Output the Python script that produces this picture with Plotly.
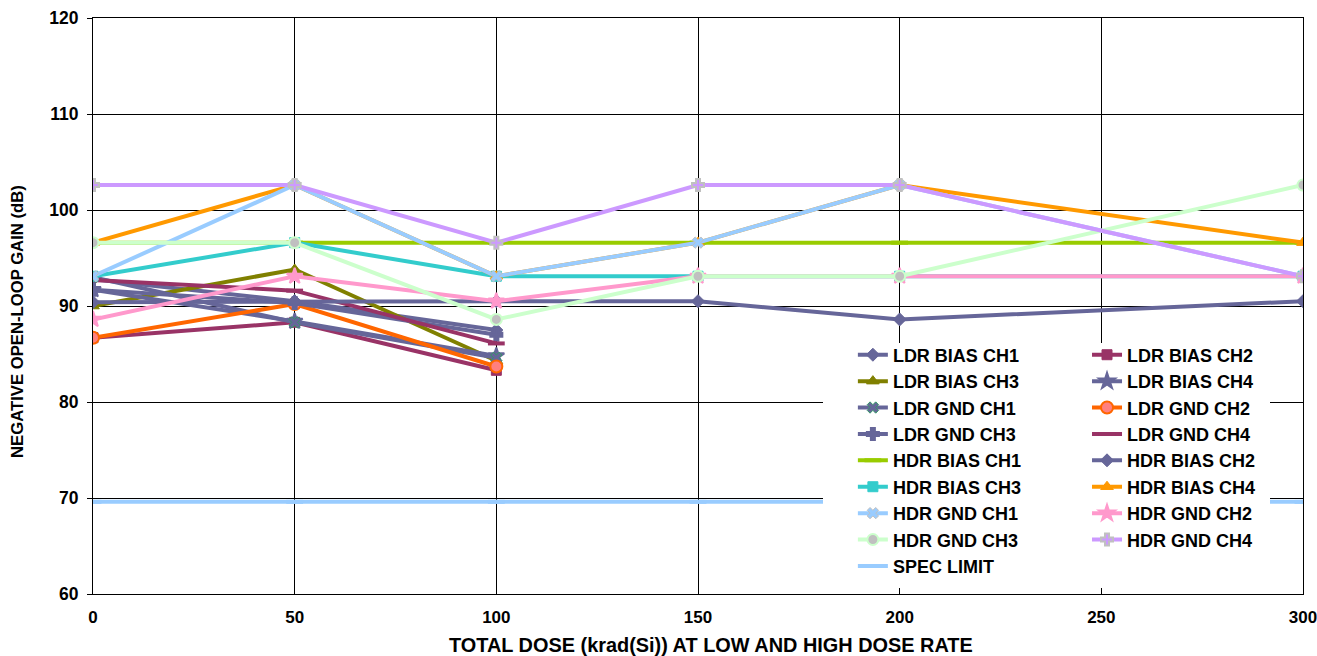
import plotly.graph_objects as go

# ---- data ----
LDR_X = [0, 50, 100]
HDR_X = [0, 50, 100, 150, 200, 300]

LDR_BIAS_CH1 = [92.8, 90.5, 87.5]
LDR_BIAS_CH2 = [86.7, 88.3, 83.3]
LDR_BIAS_CH3 = [90.0, 93.8, 84.3]
LDR_BIAS_CH4 = [91.7, 88.4, 84.8]
LDR_GND_CH1 = [93.0, 88.3, 84.6]
LDR_GND_CH2 = [86.7, 90.2, 83.7]
LDR_GND_CH3 = [91.7, 90.3, 87.0]
LDR_GND_CH4 = [92.7, 91.6, 86.1]

HDR_BIAS_CH1 = [96.6, 96.6, 96.6, 96.6, 96.6, 96.6]
HDR_BIAS_CH2 = [90.4, 90.5, 90.5, 90.5, 88.6, 90.5]
HDR_BIAS_CH3 = [93.1, 96.6, 93.1, 93.1, 93.1, 93.1]
HDR_BIAS_CH4 = [96.6, 102.6, 93.1, 96.6, 102.6, 96.6]
HDR_GND_CH1 = [93.1, 102.6, 93.1, 96.6, 102.6, 93.1]
HDR_GND_CH2 = [88.6, 93.1, 90.5, 93.1, 93.1, 93.1]
HDR_GND_CH3 = [96.6, 96.6, 88.6, 93.1, 93.1, 102.6]
HDR_GND_CH4 = [102.6, 102.6, 96.6, 102.6, 102.6, 93.1]
SPEC_LIMIT = [69.6, 69.6, 69.6, 69.6, 69.6, 69.6]

X_TICKS = [0, 50, 100, 150, 200, 250, 300]
Y_TICKS = [60, 70, 80, 90, 100, 110, 120]
X_TITLE = "TOTAL DOSE (krad(Si)) AT LOW AND HIGH DOSE RATE"
Y_TITLE = "NEGATIVE OPEN-LOOP GAIN (dB)"

FONT = "Liberation Sans, Arial, sans-serif"

# (name, x, y, line colour, marker symbol, marker fill, marker line colour, marker size, legend)
series = [
    ("LDR BIAS CH1", LDR_X, LDR_BIAS_CH1, "#666699", "diamond", "#666699", "#666699", 10, "legend"),
    ("LDR BIAS CH2", LDR_X, LDR_BIAS_CH2, "#993366", "square", "#993366", "#993366", 10, "legend2"),
    ("LDR BIAS CH3", LDR_X, LDR_BIAS_CH3, "#808000", "triangle-up", "#808000", "#808000", 11, "legend"),
    ("LDR BIAS CH4", LDR_X, LDR_BIAS_CH4, "#666699", "star", "#666699", "#666699", 12, "legend2"),
    ("LDR GND CH1", LDR_X, LDR_GND_CH1, "#666699", "x", "#666699", "#339966", 10, "legend"),
    ("LDR GND CH2", LDR_X, LDR_GND_CH2, "#FF6600", "circle", "#FF8080", "#FF6600", 12, "legend2"),
    ("LDR GND CH3", LDR_X, LDR_GND_CH3, "#666699", "cross", "#666699", "#666699", 10, "legend"),
    ("LDR GND CH4", LDR_X, LDR_GND_CH4, "#993366", "line-ew", "#993366", "#993366", 12, "legend2"),
    ("HDR BIAS CH1", HDR_X, HDR_BIAS_CH1, "#99CC00", "line-ew", "#99CC00", "#99CC00", 12, "legend"),
    ("HDR BIAS CH2", HDR_X, HDR_BIAS_CH2, "#666699", "diamond", "#666699", "#666699", 10, "legend2"),
    ("HDR BIAS CH3", HDR_X, HDR_BIAS_CH3, "#33CCCC", "square", "#33CCCC", "#33CCCC", 10, "legend"),
    ("HDR BIAS CH4", HDR_X, HDR_BIAS_CH4, "#FF9900", "triangle-up", "#FF9900", "#FF9900", 11, "legend2"),
    ("HDR GND CH1", HDR_X, HDR_GND_CH1, "#99CCFF", "x", "#99CCFF", "#C0C0C0", 10, "legend"),
    ("HDR GND CH2", HDR_X, HDR_GND_CH2, "#FF99CC", "star", "#FF99CC", "#FF99CC", 12, "legend2"),
    ("HDR GND CH3", HDR_X, HDR_GND_CH3, "#CCFFCC", "circle", "#C0C0C0", "#CCFFCC", 11, "legend"),
    ("HDR GND CH4", HDR_X, HDR_GND_CH4, "#CC99FF", "cross", "#CC99FF", "#C0C0C0", 10, "legend2"),
    ("SPEC LIMIT", HDR_X, SPEC_LIMIT, "#99CCFF", "line-ew", "#99CCFF", "#99CCFF", 12, "legend"),
]

fig = go.Figure()
for name, xs, ys, lc, sym, fill, mlc, msz, leg in series:
    mlw = 2 if sym in ("circle", "cross", "star") else 1
    if sym == "line-ew":
        mlw = 4
    fig.add_trace(go.Scatter(
        x=xs, y=ys, name=name, mode="lines+markers",
        line=dict(color=lc, width=4),
        marker=dict(symbol=sym, size=msz, color=fill,
                    line=dict(color=mlc, width=mlw)),
        legend=leg,
    ))

# plot area in page pixels: x 93..1303, y 18..594
fig.update_layout(
    width=1317, height=656,
    margin=dict(l=93, r=14, t=18, b=62, autoexpand=False),
    plot_bgcolor="white", paper_bgcolor="white",
    font=dict(family=FONT, size=16, color="black", weight="bold"),
    showlegend=True,
    legend=dict(x=0.628, y=0.447, xanchor="left", yanchor="top",
                bgcolor="rgba(0,0,0,0)", borderwidth=0,
                font=dict(family=FONT, size=18, color="black", weight="bold"),
                tracegroupgap=0, itemwidth=30),
    legend2=dict(x=0.8215, y=0.447, xanchor="left", yanchor="top",
                 bgcolor="rgba(0,0,0,0)", borderwidth=0,
                 font=dict(family=FONT, size=18, color="black", weight="bold"),
                 tracegroupgap=0, itemwidth=30),
    shapes=[dict(type="rect", xref="paper", yref="paper",
                 x0=(823 - 93) / 1210, x1=(1270 - 93) / 1210,
                 y0=1 - (588 - 18) / 576, y1=1 - (343 - 18) / 576,
                 fillcolor="white", line=dict(width=0), layer="above")],
    annotations=[
        dict(text=X_TITLE, xref="paper", yref="paper", x=0.5107, y=-0.0885,
             xanchor="center", yanchor="middle", showarrow=False,
             font=dict(family=FONT, size=19.9, color="black", weight="bold")),
        dict(text=Y_TITLE, xref="paper", yref="paper", x=-0.0628, y=0.4722,
             xanchor="center", yanchor="middle", showarrow=False, textangle=-90,
             font=dict(family=FONT, size=16.7, color="black", weight="bold")),
    ],
)

fig.update_xaxes(
    range=[0, 300], tickvals=X_TICKS, ticktext=[str(v) for v in X_TICKS],
    showgrid=True, gridcolor="black", gridwidth=1,
    showline=True, linecolor="black", linewidth=1, mirror=True,
    ticks="", zeroline=False, automargin=False, ticklabeloverflow="allow",
    tickfont=dict(family=FONT, size=17, color="black", weight="bold"),
    ticklabelstandoff=8,
)
fig.update_yaxes(
    range=[60, 120], tickvals=Y_TICKS, ticktext=[str(v) for v in Y_TICKS],
    showgrid=True, gridcolor="black", gridwidth=1,
    showline=True, linecolor="black", linewidth=1, mirror=True,
    ticks="outside", ticklen=5, tickcolor="black", zeroline=False, automargin=False,
    ticklabeloverflow="allow",
    tickfont=dict(family=FONT, size=17.5, color="black", weight="bold"),
    ticklabelstandoff=5,
)

fig.write_html(
    "out.html",
    config={"displayModeBar": False},
    post_script="document.body.style.margin='0';document.body.style.overflow='hidden';",
)
